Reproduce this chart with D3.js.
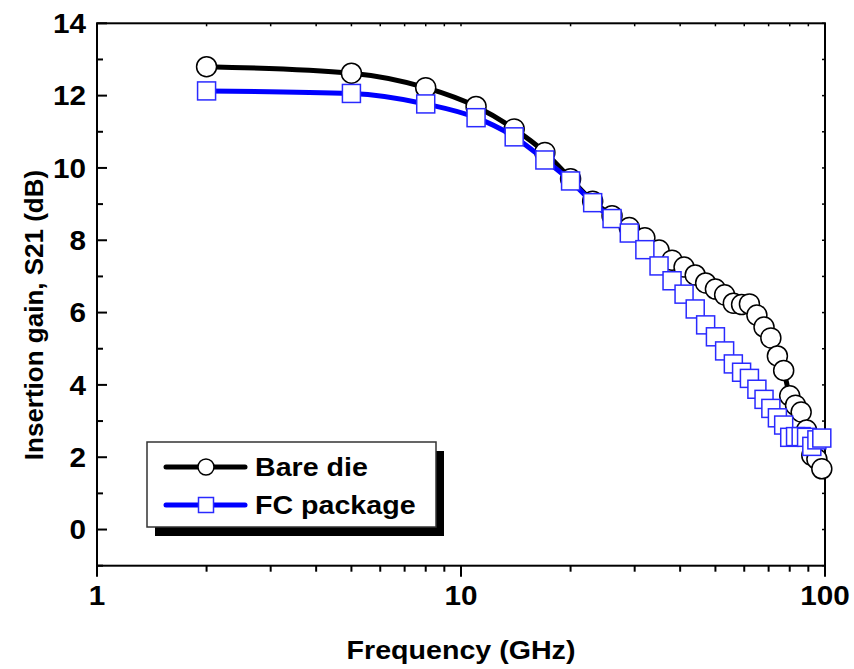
<!DOCTYPE html>
<html>
<head>
<meta charset="utf-8">
<script src="https://cdn.jsdelivr.net/npm/d3@7"></script>
<style>
  html, body { margin: 0; padding: 0; background: #fff; }
  text { font-family: "Liberation Sans", Arial, Helvetica, sans-serif; font-weight: bold; fill: #000; }
</style>
</head>
<body>
<svg id="chart" width="854" height="669"></svg>
<script>
// ---- data ----
const freqGHz = [2, 5, 8, 11, 14, 17, 20, 23, 26, 29, 32, 35, 38, 41, 44, 47, 50, 53, 56, 59, 62, 65, 68, 71, 74, 77, 80, 83, 86, 89, 92, 95, 98];
const bareDie = [12.8, 12.62, 12.22, 11.7, 11.08, 10.43, 9.7, 9.08, 8.68, 8.35, 8.07, 7.73, 7.45, 7.26, 7.04, 6.82, 6.65, 6.49, 6.26, 6.22, 6.24, 5.93, 5.6, 5.3, 4.8, 4.4, 3.7, 3.44, 3.25, 2.75, 2.05, 1.95, 1.68];
const fcPackage = [12.13, 12.06, 11.77, 11.39, 10.86, 10.22, 9.64, 9.04, 8.6, 8.2, 7.74, 7.29, 6.88, 6.51, 6.1, 5.66, 5.33, 4.94, 4.58, 4.35, 4.18, 3.88, 3.6, 3.35, 3.09, 2.89, 2.55, 2.57, 2.57, 2.55, 2.3, 2.48, 2.53];
const seriesNames = ["Bare die", "FC package"];
const xTickValues = [1, 10, 100];
const xTickLabels = ["1", "10", "100"];
const yTickValues = [0, 2, 4, 6, 8, 10, 12, 14];
const xTitle = "Frequency (GHz)";
const yTitle = "Insertion gain, S21 (dB)";

// ---- layout ----
const L = 97, R = 825, T = 23.3, B = 565.7;
const svg = d3.select("#chart");
const x = d3.scaleLog().domain([1, 100]).range([L, R]);
const y = d3.scaleLinear().domain([-1, 14]).range([B, T]);
const STRETCH = 1.1;
function stretch(sel) {
  sel.each(function () {
    const len = this.getComputedTextLength();
    d3.select(this).attr("textLength", len * STRETCH).attr("lengthAdjust", "spacingAndGlyphs");
  });
}

const gAxes = svg.append("g");
// minor x positions
const xMinor = [];
for (let d = 1; d < 100; d *= 10) for (let k = 2; k <= 9; k++) xMinor.push(d * k);
const yMinor = d3.range(-1, 14, 1).filter(v => v % 2 !== 0);

// left axis ticks (inward)
gAxes.selectAll(".ly").data(yTickValues).join("line")
  .attr("x1", L).attr("x2", L + 10).attr("y1", d => y(d)).attr("y2", d => y(d))
  .attr("stroke", "#000").attr("stroke-width", 2);
gAxes.selectAll(".lym").data(yMinor).join("line")
  .attr("x1", L).attr("x2", L + 6).attr("y1", d => y(d)).attr("y2", d => y(d))
  .attr("stroke", "#000").attr("stroke-width", 2);
// right axis small ticks
gAxes.selectAll(".ry").data(d3.range(-1, 15)).join("line")
  .attr("x1", R).attr("x2", R - 3).attr("y1", d => y(d)).attr("y2", d => y(d))
  .attr("stroke", "#000").attr("stroke-width", 1.5);
// bottom axis ticks (outward)
gAxes.selectAll(".bx").data(xTickValues).join("line")
  .attr("x1", d => x(d)).attr("x2", d => x(d)).attr("y1", B).attr("y2", B + 11)
  .attr("stroke", "#000").attr("stroke-width", 2);
gAxes.selectAll(".bxm").data(xMinor).join("line")
  .attr("x1", d => x(d)).attr("x2", d => x(d)).attr("y1", B).attr("y2", B + 6)
  .attr("stroke", "#000").attr("stroke-width", 2);
// top axis small ticks
gAxes.selectAll(".tx").data(xMinor.concat(xTickValues)).join("line")
  .attr("x1", d => x(d)).attr("x2", d => x(d)).attr("y1", T).attr("y2", T + 3)
  .attr("stroke", "#000").attr("stroke-width", 1.5);

// frame
gAxes.append("rect").attr("x", L).attr("y", T).attr("width", R - L).attr("height", B - T)
  .attr("fill", "none").attr("stroke", "#000").attr("stroke-width", 2);

// tick labels
gAxes.selectAll(".yl").data(yTickValues).join("text")
  .attr("x", L - 11).attr("y", d => y(d)).attr("dy", "0.36em")
  .attr("text-anchor", "end").attr("font-size", 27).text(d => d)
  .call(stretch);
gAxes.selectAll(".xl").data(xTickValues).join("text")
  .attr("x", d => x(d)).attr("y", 605)
  .attr("text-anchor", "middle").attr("font-size", 27).text((d, i) => xTickLabels[i])
  .call(stretch);

// axis titles
svg.append("text").attr("x", (L + R) / 2).attr("y", 659)
  .attr("text-anchor", "middle").attr("font-size", 26).text(xTitle).call(stretch);
svg.append("text").attr("transform", "translate(43,315) rotate(-90)")
  .attr("text-anchor", "middle").attr("font-size", 26).text(yTitle);

// ---- data marks ----
const line = d3.line().x(d => x(d[0])).y(d => y(d[1])).curve(d3.curveMonotoneX);
const bareData = freqGHz.map((f, i) => [f, bareDie[i]]);
const fcData = freqGHz.map((f, i) => [f, fcPackage[i]]);

const plot = svg.append("g");
plot.append("path").datum(bareData).attr("d", line)
  .attr("fill", "none").attr("stroke", "#000").attr("stroke-width", 5).attr("stroke-linejoin", "round");
plot.selectAll(".c").data(bareData).join("circle")
  .attr("cx", d => x(d[0])).attr("cy", d => y(d[1])).attr("r", 10)
  .attr("fill", "#fff").attr("stroke", "#000").attr("stroke-width", 1.5);
plot.append("path").datum(fcData).attr("d", line)
  .attr("fill", "none").attr("stroke", "#0000ff").attr("stroke-width", 5).attr("stroke-linejoin", "round");
const S = 18;
plot.selectAll(".s").data(fcData).join("rect")
  .attr("x", d => x(d[0]) - S / 2).attr("y", d => y(d[1]) - S / 2).attr("width", S).attr("height", S)
  .attr("fill", "#fff").attr("stroke", "#2a2aff").attr("stroke-width", 1.5);

// ---- legend ----
const lg = svg.append("g");
const LX = 147, LY = 442, LW = 289, LH = 85;
lg.append("rect").attr("x", LX + 8).attr("y", LY + 9).attr("width", LW).attr("height", LH).attr("fill", "#000");
lg.append("rect").attr("x", LX).attr("y", LY).attr("width", LW).attr("height", LH)
  .attr("fill", "#fff").attr("stroke", "#333").attr("stroke-width", 1.5);
const entries = [
  { name: seriesNames[0], color: "#000", y: 467, type: "circle" },
  { name: seriesNames[1], color: "#0000ff", y: 505, type: "square" }
];
entries.forEach(e => {
  lg.append("line").attr("x1", 166).attr("x2", 245).attr("y1", e.y).attr("y2", e.y)
    .attr("stroke", e.color).attr("stroke-width", 5).attr("stroke-linecap", "round");
  if (e.type === "circle") {
    lg.append("circle").attr("cx", 206).attr("cy", e.y).attr("r", 8)
      .attr("fill", "#fff").attr("stroke", "#000").attr("stroke-width", 1.5);
  } else {
    lg.append("rect").attr("x", 206 - 7.5).attr("y", e.y - 7.5).attr("width", 15).attr("height", 15)
      .attr("fill", "#fff").attr("stroke", "#2a2aff").attr("stroke-width", 1.5);
  }
  lg.append("text").attr("x", 255).attr("y", e.y + 8.5).attr("font-size", 26).text(e.name).call(stretch);
});
</script>
</body>
</html>
